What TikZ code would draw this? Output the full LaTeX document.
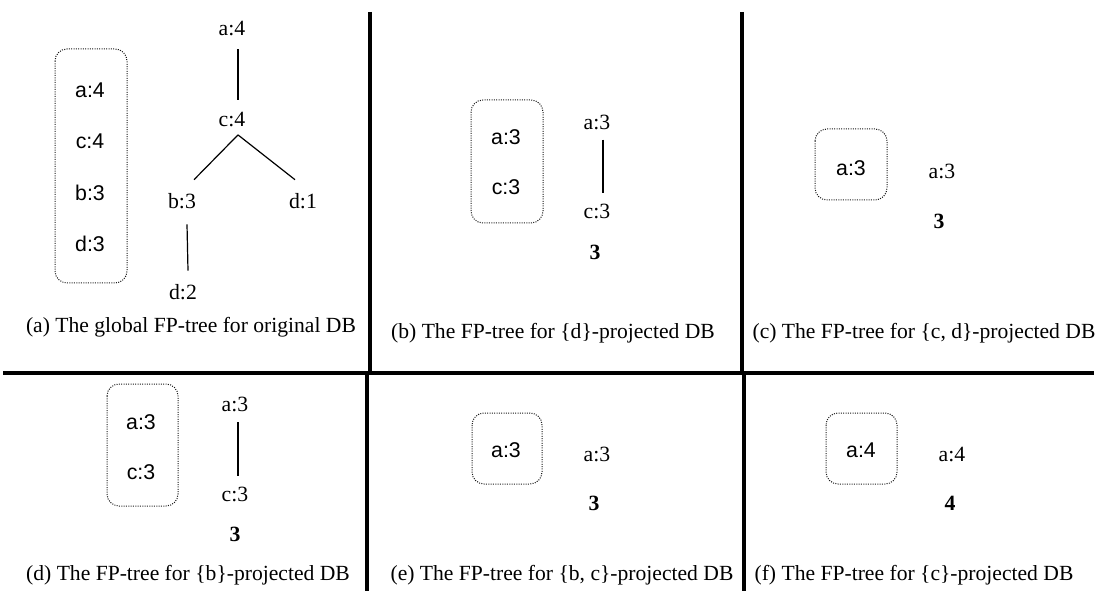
\documentclass[tikz,border=0pt]{standalone}
\usepackage{fontspec}
\setmainfont{Liberation Serif}
\newfontfamily\sansf{Liberation Sans}
\begin{document}
\begin{tikzpicture}[x=0.75pt,y=-0.75pt,
  tl/.style={font=\fontsize{16.3}{18}\selectfont, inner sep=0pt},
  sl/.style={font=\sansf\fontsize{16}{18}\selectfont, inner sep=0pt},
  bl/.style={font=\bfseries\fontsize{16.3}{18}\selectfont, inner sep=0pt},
  captext/.style={font=\fontsize{16.2}{18}\selectfont, inner sep=0pt},
  dbox/.style={draw=black!90, densely dotted, rounded corners=9pt, line width=0.75pt},
  sepline/.style={line width=3pt, black},
  edge/.style={line width=0.9pt, black}]
\useasboundingbox (0,0) rectangle (1098,591);
% separators
\draw[sepline] (370,12) -- (370,372);
\draw[sepline] (742,12) -- (742,372);
\draw[sepline] (3,373) -- (1094,373);
\draw[sepline] (367,374) -- (367,591);
\draw[sepline] (744,374) -- (744,591);

% ---------- (a)
\draw[dbox] (55,49) rectangle (127,283);
\node[sl] (ha) at (90,90) {a:4};
\node[sl] (hc) at (90,141) {c:4};
\node[sl] (hb) at (90,193) {b:3};
\node[sl] (hd) at (90,244) {d:3};
\node[tl] (ta) at (232,29) {a:4};
\node[tl] (tc) at (232,120) {c:4};
\node[tl] (tb) at (182,201) {b:3};
\node[tl] (td1) at (303,201) {d:1};
\node[tl] (td2) at (183,292) {d:2};
\draw[edge] ([xshift=4.5pt,yshift=-9.5pt]ta.south) -- ([xshift=4.5pt,yshift=9.5pt]tc.north);
\draw[edge] ([xshift=4.5pt,yshift=-5.5pt]tc.south) -- ([xshift=9pt,yshift=10pt]tb.north);
\draw[edge] ([xshift=4.5pt,yshift=-5.5pt]tc.south) -- ([xshift=-6pt,yshift=10pt]td1.north);
\draw[edge] ([xshift=3.75pt,yshift=-11.5pt]tb.south) -- ([xshift=3.75pt,yshift=10pt]td2.north);
\node[captext] (capa) at (191,327) {(a) The global FP-tree for original DB};

% ---------- (b)
\draw[dbox] (471,100) rectangle (543,223);
\node[sl] (hba) at (506,137) {a:3};
\node[sl] (hbc) at (506,187) {c:3};
\node[tl] (tba) at (597,122) {a:3};
\node[tl] (tbc) at (597,211) {c:3};
\node[bl] (nb) at (595,252) {3};
\draw[edge] ([xshift=4.5pt,yshift=-7.5pt]tba.south) -- ([xshift=4.5pt,yshift=7.5pt]tbc.north);
\node[captext] (capb) at (553,333) {(b) The FP-tree for \{d\}-projected DB};

% ---------- (c)
\draw[dbox] (815,129) rectangle (887,200);
\node[sl] (hca) at (851,168) {a:3};
\node[tl] (tca) at (942,171) {a:3};
\node[bl] (nc) at (939,221) {3};
\node[captext] (capc) at (924,333) {(c) The FP-tree for \{c, d\}-projected DB};

% ---------- (d)
\draw[dbox] (107,384) rectangle (178,506);
\node[sl] (hda) at (141,422) {a:3};
\node[sl] (hdc) at (141,472) {c:3};
\node[tl] (tda) at (235,404) {a:3};
\node[tl] (tdc) at (235,494) {c:3};
\node[bl] (nd) at (235,534) {3};
\draw[edge] ([xshift=2.25pt,yshift=-8pt]tda.south) -- ([xshift=2.25pt,yshift=7.5pt]tdc.north);
\node[captext] (capd) at (188,575) {(d) The FP-tree for \{b\}-projected DB};

% ---------- (e)
\draw[dbox] (472,413) rectangle (542,484);
\node[sl] (hea) at (506,450) {a:3};
\node[tl] (tea) at (597,454) {a:3};
\node[bl] (ne) at (594,503) {3};
\node[captext] (cape) at (562,575) {(e) The FP-tree for \{b, c\}-projected DB};

% ---------- (f)
\draw[dbox] (826,413) rectangle (897,484);
\node[sl] (hfa) at (861,450) {a:4};
\node[tl] (tfa) at (952,454) {a:4};
\node[bl] (nf) at (950,503) {4};
\node[captext] (capf) at (914,575) {(f) The FP-tree for \{c\}-projected DB};
\end{tikzpicture}
\end{document}
